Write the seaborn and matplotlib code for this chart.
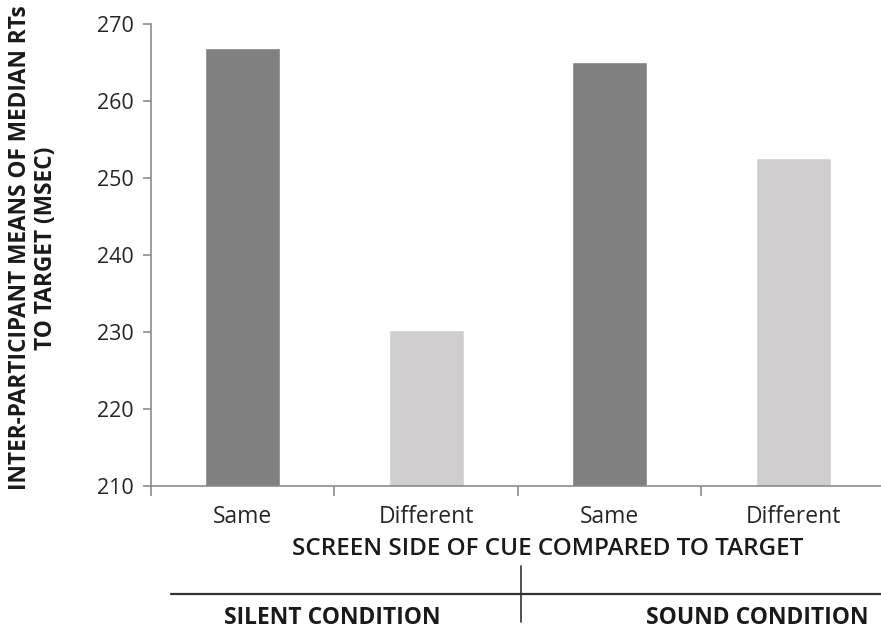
import matplotlib
matplotlib.use('Agg')
import matplotlib.pyplot as plt
from matplotlib.lines import Line2D
import pandas as pd
import seaborn as sns

# -----------------------------
# Data
# -----------------------------
conditions = ["SILENT CONDITION", "SILENT CONDITION", "SOUND CONDITION", "SOUND CONDITION"]
cue_side = ["Same", "Different", "Same", "Different"]
mean_rt = [266.9, 230.3, 265.1, 252.6]
y_ticks = [210, 220, 230, 240, 250, 260, 270]

df = pd.DataFrame({
    "slot": [f"{c} {s}" for c, s in zip(conditions, cue_side)],
    "Side": cue_side,
    "RT": mean_rt,
})

# -----------------------------
# Plot
# -----------------------------
sns.set_theme(style="white")
plt.rcParams['font.family'] = ['Open Sans', 'DejaVu Sans']

W, H = 881, 629
fig = plt.figure(figsize=(W / 100, H / 100), dpi=100)
ax = fig.add_axes([0.1714, 0.2273, 0.833, 0.7345])

sns.barplot(
    data=df, x="slot", y="RT", hue="Side",
    palette={"Same": "#808080", "Different": "#D0CECE"},
    dodge=False, width=0.41, legend=False, ax=ax,
)

axis_grey = "#8C8C8C"
text_col = "#1a1a1a"
ax.set_ylim(210, 270)
ax.set_yticks(y_ticks)
ax.set_xlim(-0.5, 3.5)
ax.set_xticks(range(4))
ax.set_xticklabels(cue_side)
ax.set_xticks([-0.5, 0.5, 1.5, 2.5], minor=True)
ax.set_xlabel("")
ax.set_ylabel("")

for side in ["top", "right"]:
    ax.spines[side].set_visible(False)
for side in ["left", "bottom"]:
    ax.spines[side].set_color(axis_grey)
    ax.spines[side].set_linewidth(1.2)

ax.tick_params(axis="y", which="major", left=True, length=6, width=1.2,
               color=axis_grey, labelsize=15.5, pad=6.5, labelcolor="#262626")
ax.tick_params(axis="x", which="major", bottom=False, length=0, labelsize=16.5,
               pad=13.5, labelcolor="#262626")
ax.tick_params(axis="x", which="minor", bottom=True, length=7, width=1.2,
               color=axis_grey)

# axis titles
fig.text(548 / W, 1 - 549 / H, "SCREEN SIDE OF CUE COMPARED TO TARGET",
         ha="center", va="center", fontsize=17.5, fontweight="semibold",
         color=text_col)
fig.text(33 / W, 1 - 248 / H,
         "INTER-PARTICIPANT MEANS OF MEDIAN RTs\nTO TARGET (MSEC)",
         ha="center", va="center", rotation=90, fontsize=16.3,
         fontweight="bold", color=text_col, linespacing=1.1)

# condition grouping under the axis
fig.add_artist(Line2D([171 / W, 1.0], [1 - 594 / H, 1 - 594 / H],
                      color="#333333", linewidth=1.6))
fig.add_artist(Line2D([521 / W, 521 / W], [1 - 566 / H, 1 - 622 / H],
                      color="#333333", linewidth=1.2))
fig.text(332 / W, 1 - 618 / H, "SILENT CONDITION", ha="center", va="center",
         fontsize=16.5, fontweight="bold", color=text_col)
fig.text(757 / W, 1 - 618 / H, "SOUND CONDITION", ha="center", va="center",
         fontsize=16.5, fontweight="bold", color=text_col)

fig.savefig("out.png", dpi=100)
plt.close(fig)
